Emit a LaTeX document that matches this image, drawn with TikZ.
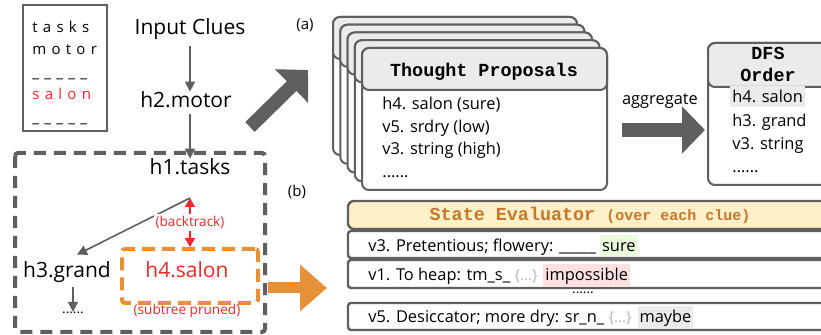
\documentclass[tikz,border=0pt]{standalone}
\usepackage{fontspec}
\setmainfont{Open Sans}
\newfontfamily\codefont{Liberation Mono}
\newfontfamily\spacedfont[LetterSpace=35]{Open Sans}
\usetikzlibrary{
	arrows.meta,
	calc,
	positioning,
}
\definecolor{linegray}{HTML}{5F5F5F}
\definecolor{headgray}{HTML}{EBEBEB}
\definecolor{tiporange}{HTML}{E69138}
\definecolor{evalfill}{HTML}{FFF0C9}
\definecolor{evaltext}{HTML}{C8772A}
\definecolor{surefill}{HTML}{E9FBDA}
\definecolor{impfill}{HTML}{FDE1E1}
\definecolor{maybefill}{HTML}{EBEBEB}
\definecolor{bracegray}{HTML}{B5B5B5}
\definecolor{prunered}{HTML}{F02828}

\newcommand{\hlword}[2]{{\setlength{\fboxsep}{1pt}\colorbox{#1}{\rule[-1pt]{0pt}{8.5pt}#2}}}

\tikzset{txt/.style={anchor=base,inner sep=0pt,font=\fontsize{10.5}{12}\selectfont}}
\tikzset{small txt/.style={txt,font=\fontsize{6.8}{8}\selectfont}}
\tikzset{list txt/.style={anchor=base west,inner sep=0pt,font=\spacedfont\fontsize{7.5}{9}\selectfont}}
\tikzset{body txt/.style={anchor=base west,inner sep=0pt,font=\fontsize{8.2}{10}\selectfont}}
\tikzset{head txt/.style={anchor=base,inner sep=0pt,font=\codefont\bfseries\fontsize{9.2}{11}\selectfont}}
\tikzset{tree edge/.style={draw=linegray,line width=0.8pt,-{Triangle[length=5pt,width=5pt]}}}
\tikzset{back edge/.style={draw=prunered,line width=0.8pt,{Triangle[length=4.5pt,width=5pt]}-{Triangle[length=4.5pt,width=5pt]}}}
\tikzset{tree box/.style={draw=linegray,line width=2pt,dash pattern=on 6pt off 4pt,rounded corners=1.5pt}}
\tikzset{pruned box/.style={draw=tiporange,line width=2pt,dash pattern=on 6.5pt off 3.5pt,rounded corners=1.5pt}}
\tikzset{card/.style={draw=linegray,line width=1pt,rounded corners=3.5pt,fill=white}}
\tikzset{card head/.style={card,fill=headgray}}
\tikzset{row/.style={draw=linegray,line width=1.2pt,rounded corners=1.5pt,fill=white}}
\tikzset{big arrow/.style={draw=linegray,line width=6.8pt,-{Triangle[length=11.5pt,width=23pt]}}}

\begin{document}
\begin{tikzpicture}[x=0.5pt,y=-0.5pt]
\clip (0,0) rectangle (821,335);
\fill[white] (0,0) rectangle (821,335);

% clue list
\draw[draw=linegray,line width=1.2pt] (23,5) rectangle (107,131);
\node[list txt] (w1) at (32,33) {tasks};
\node[list txt] (w2) at (32,55) {motor};
\node[list txt] (w3) at (32,78) {\_\_\_\_\_};
\node[list txt,prunered] (w4) at (32,100) {salon};
\node[list txt] (w5) at (32,123) {\_\_\_\_\_};

% search tree
\node[txt] (clues) at (190,35) {Input Clues};
\node[txt] (h2) at (186,108) {h2.motor};
\node[txt] (h1) at (190,175) {h1.tasks};
\node[txt] (h3) at (67,278) {h3.grand};
\node[pruned box,minimum width=68pt,minimum height=27pt] (h4box) at (190,276) {};
\node[txt,prunered] (h4) at (187,278) {h4.salon};
\node[small txt] (h3dots) at (73,314) {......};
\node[small txt,prunered] (pruned) at (187,315) {(subtree pruned)};
\coordinate (fork) at (190,198);

\draw[tree box] (15,153) rectangle (265,332);

\draw[tree edge,shorten <=3pt] (clues.south) -- (clues.south |- h2.north);
\draw[tree edge,shorten <=2.5pt] (h2.south -| h1.north) -- (h1.north);
\draw[tree edge] (fork) -- ($(h3.north)+(10,-7)$);
\draw[tree edge,shorten <=2pt] (h3.south -| h3dots) -- (h3dots);
\draw[back edge] (fork) -- (h4box.north)
	node[midway,fill=white,inner sep=1pt,font=\fontsize{6.8}{8}\selectfont,text=prunered]{(backtrack)};

% big arrows
\coordinate (up0) at (250,127);
\coordinate (up1) at (308,70);
\coordinate (agg0) at (622,130);
\coordinate (agg1) at (705,130);
\coordinate (ev0) at (268,288);
\coordinate (ev1) at (327,288);
\draw[big arrow] (up0) -- (up1);
\draw[big arrow] (agg0) -- (agg1);
\draw[big arrow,draw=tiporange,line width=5.5pt,-{Triangle[length=13.5pt,width=22.5pt]}] (ev0) -- (ev1);

\node[txt,font=\fontsize{7.5}{9}\selectfont] (parta) at (305,30) {(a)};
\node[txt,font=\fontsize{7.5}{9}\selectfont] (partb) at (297,197) {(b)};

% thought proposals
\foreach \i in {0,...,4}{
	\pgfmathsetmacro{\l}{333+7.25*\i}
	\pgfmathsetmacro{\t}{17+7.75*\i}
	\pgfmathsetmacro{\r}{577+7.5*\i}
	\pgfmathsetmacro{\b}{155+8.75*\i}
	\draw[card] (\l,\t) rectangle (\r,\b);
	\draw[card head] (\l,\t) rectangle (\r,\t+42);
}
\node[head txt] (tp) at (484,77) {Thought Proposals};
\node[body txt] (p1) at (382,110) {h4. salon (sure)};
\node[body txt] (p2) at (382,133) {v5. srdry (low)};
\node[body txt] (p3) at (382,155) {v3. string (high)};
\node[body txt] (p4) at (382,178) {......};

\node[txt,font=\fontsize{8.2}{10}\selectfont] (agg) at (660,105) {aggregate};

% dfs order
\draw[card] (708,43) rectangle (840,185);
\draw[card head] (708,43) rectangle (840,87);
\node[head txt] (dfs1) at (768,60) {DFS};
\node[head txt] (dfs2) at (768,82) {Order};
\node[body txt] (d1) at (730,103) {\hlword{maybefill}{h4. salon}};
\node[body txt] (d2) at (732,127) {h3. grand};
\node[body txt] (d3) at (732,150) {v3. string};
\node[body txt] (d4) at (732,173) {......};

% state evaluator
\draw[row,fill=evalfill,rounded corners=3pt] (348,201) rectangle (840,229);
\node[head txt,text=evaltext] (se) at (590,221) {State Evaluator {\fontsize{7.5}{9}\selectfont (over each clue)}};
\draw[row] (348,231) rectangle (840,258);
\draw[row] (348,260) rectangle (840,288);
\draw[row] (348,303) rectangle (840,330);
\node[body txt] (r1) at (368,252) {v3. Pretentious; flowery: \_\_\_\_\_ \hlword{surefill}{sure}};
\node[body txt] (r2) at (368,281) {v1. To heap: tm\_s\_ {\color{bracegray}\fontsize{7.5}{9}\selectfont\{...\}} \hlword{impfill}{impossible}};
\node[small txt] (rdots) at (583,294) {......};
\node[body txt] (r3) at (368,323) {v5. Desiccator; more dry: sr\_n\_ {\color{bracegray}\fontsize{7.5}{9}\selectfont\{...\}} \hlword{maybefill}{maybe}};

\end{tikzpicture}
\end{document}
